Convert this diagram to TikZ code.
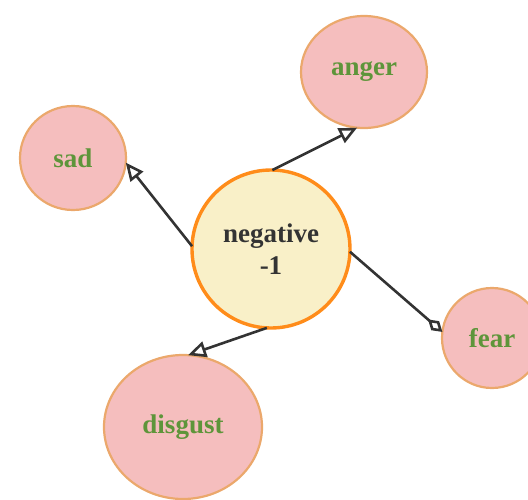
\documentclass[tikz,border=0pt]{standalone}
\usepackage{fontspec}
\setmainfont{Liberation Serif}
\usetikzlibrary{shapes.geometric,arrows.meta}
\definecolor{emoFill}{HTML}{F5BEBE}
\definecolor{emoLine}{HTML}{EBA86C}
\definecolor{emoText}{HTML}{5E953A}
\definecolor{negFill}{HTML}{F9F0C8}
\definecolor{negLine}{HTML}{FF8C1A}
\definecolor{linkCol}{HTML}{333333}
\newcommand{\emoNode}[5]{\node[emo, minimum width=#3, minimum height=#4] (#1) at (#2) {#5};}

\begin{document}
\begin{tikzpicture}[x=1pt, y=-1pt,
	emo/.style={ellipse, draw=emoLine, fill=emoFill, line width=2.2pt, text=emoText,
		font=\fontsize{27}{32}\selectfont\bfseries, inner sep=0pt, outer sep=0pt},
	link/.style={draw=linkCol, line width=2.6pt}]
	\useasboundingbox (0,0) rectangle (528,499);
	\node[emo, draw=negLine, fill=negFill, line width=3.4pt, text=linkCol, align=center,
		minimum width=158, minimum height=158] (neg) at (271,249) {negative\\-1};
	\emoNode{anger}{364,72}{126}{112}{anger}
	\emoNode{sad}{73,158}{106}{104}{sad}
	\emoNode{fear}{492,338}{100}{100}{fear}
	\emoNode{disgust}{183,427}{158}{144}{disgust}
	\draw[link, -{Triangle[open, length=18pt, width=16pt]}] (neg.89) -- (anger.263);
	\draw[link, -{Triangle[open, length=18pt, width=16pt]}] (neg.178) -- (sad.355);
	\draw[link, -{Diamond[open, length=19pt, width=12pt]}] (neg.358) -- (fear.173);
	\draw[link, -{Triangle[open, length=18pt, width=16pt]}] (neg.267) -- (disgust.86);
\end{tikzpicture}
\end{document}
